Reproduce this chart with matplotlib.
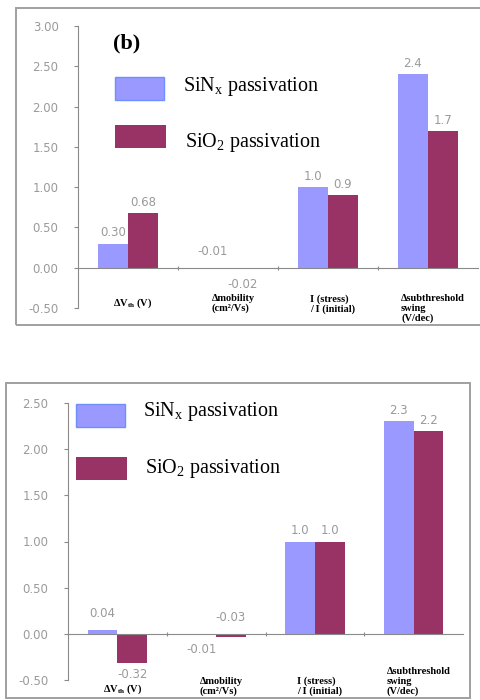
import matplotlib
matplotlib.use("Agg")
import matplotlib.pyplot as plt
from matplotlib.patches import Rectangle
import numpy as np

plt.rcParams["mathtext.fontset"] = "custom"
plt.rcParams["mathtext.rm"] = "Liberation Serif"
plt.rcParams["mathtext.it"] = "Liberation Serif:italic"
plt.rcParams["mathtext.bf"] = "Liberation Serif:bold"

categories = [r"$\mathbf{\Delta V_{th}}$ (V)",
              "Δmobility\n(cm²/Vs)",
              "I (stress)\n/ I (initial)",
              "Δsubthreshold\nswing\n(V/dec)"]
series_names = [r"SiN$_\mathrm{x}$ passivation", r"SiO$_\mathrm{2}$ passivation"]

# panel (b)
top_sinx = [0.30, -0.01, 1.0, 2.4]
top_sio2 = [0.68, -0.02, 0.9, 1.7]
# lower panel
bot_sinx = [0.04, -0.01, 1.0, 2.3]
bot_sio2 = [-0.32, -0.03, 1.0, 2.2]

label_fmt = ["{:.2f}", "{:.2f}", "{:.1f}", "{:.1f}"]
top_ticks = [-0.5, 0.0, 0.5, 1.0, 1.5, 2.0, 2.5, 3.0]
bot_ticks = [-0.5, 0.0, 0.5, 1.0, 1.5, 2.0, 2.5]

c_sinx = "#9999ff"
c_sio2 = "#993366"
gray = "#8a8a8a"
light = "#9a9a9a"

W, H = 481, 700
fig = plt.figure(figsize=(W / 100, H / 100), dpi=100)


def fx(px):
    return px / W


def fy(py):
    return 1 - py / H


def frame(x0, y0, x1, y1):
    fig.patches.append(Rectangle((fx(x0), fy(y1)), fx(x1 - x0), (y1 - y0) / H,
                                 transform=fig.transFigure, fill=False,
                                 edgecolor="#a0a0a0", lw=1.4))


def legend(x, y1, y2, tx, ty1, ty2):
    fig.patches.append(Rectangle((fx(x), fy(y1 + 23)), fx(49), 23 / H,
                                 transform=fig.transFigure, facecolor=c_sinx,
                                 edgecolor="#6f8fff", lw=1))
    fig.patches.append(Rectangle((fx(x), fy(y2 + 23)), fx(51), 23 / H,
                                 transform=fig.transFigure, facecolor=c_sio2,
                                 edgecolor="none"))
    fig.text(fx(tx), fy(ty1), series_names[0], fontsize=14.5, va="center",
             family="Liberation Serif")
    fig.text(fx(tx + 2), fy(ty2), series_names[1], fontsize=14.5, va="center",
             family="Liberation Serif")


def panel(rect, s1, s2, ticks, sides1, sides2, cat_y, cat_va):
    ax = fig.add_axes(rect)
    x = np.arange(len(categories))
    w = 0.3
    ax.bar(x - w / 2, s1, w, color=c_sinx, zorder=2)
    ax.bar(x + w / 2, s2, w, color=c_sio2, zorder=2)
    for vals, xs, sides in ((s1, x - w / 2, sides1), (s2, x + w / 2, sides2)):
        for i, (v, xi, sd) in enumerate(zip(vals, xs, sides)):
            txt = label_fmt[i].format(v)
            if sd > 0:
                ax.annotate(txt, (xi, max(v, 0)), xytext=(0, 3 if abs(v) > 0.1 else 7),
                            textcoords="offset points", ha="center", va="bottom",
                            fontsize=8.5, color=light)
            else:
                ax.annotate(txt, (xi, min(v, 0)), xytext=(0, -3 if abs(v) > 0.1 else -6),
                            textcoords="offset points", ha="center", va="top",
                            fontsize=8.5, color=light)
    ax.set_xlim(-0.5, len(categories) - 0.5)
    ax.set_ylim(ticks[0], ticks[-1])
    for s in ("top", "right"):
        ax.spines[s].set_visible(False)
    ax.spines["bottom"].set_position(("data", 0))
    ax.spines["bottom"].set_color(gray)
    ax.spines["left"].set_color(gray)
    ax.set_yticks(ticks)
    ax.set_yticklabels(["{:.2f}".format(t) for t in ticks])
    ax.tick_params(axis="y", colors=gray, labelcolor=light, labelsize=8.5,
                   length=3, pad=11)
    ax.set_xticks(x[:-1] + 0.5)
    ax.set_xticklabels([])
    ax.tick_params(axis="x", colors=gray, length=3, direction="inout")
    for i, c in enumerate(categories):
        ax.text(x[i] + 0.05, cat_y[i], c, ha="center", va=cat_va, fontsize=7.5,
                fontweight="bold", family="Liberation Serif", multialignment="left",
                linespacing=1.05, clip_on=False)
    return ax


# panel (b)
frame(16, 8, 490, 325)
panel([fx(78), fy(308), fx(400), 282 / H], top_sinx, top_sio2, top_ticks,
      [1, 1, 1, 1], [1, -1, 1, 1], [-0.36, -0.33, -0.33, -0.33], "top")
fig.text(fx(113), fy(43), "(b)", fontsize=16, fontweight="bold",
         family="Liberation Serif", va="center")
legend(115, 77, 125, 183, 86, 142)

# lower panel
frame(6, 383, 470, 698)
panel([fx(68), fy(680), fx(395), 277 / H], bot_sinx, bot_sio2, bot_ticks,
      [1, -1, 1, 1], [-1, 1, 1, 1], [-0.67, -0.67, -0.67, -0.67], "bottom")
legend(76, 404, 457, 143, 412, 468)

fig.savefig("out.png", dpi=100)
